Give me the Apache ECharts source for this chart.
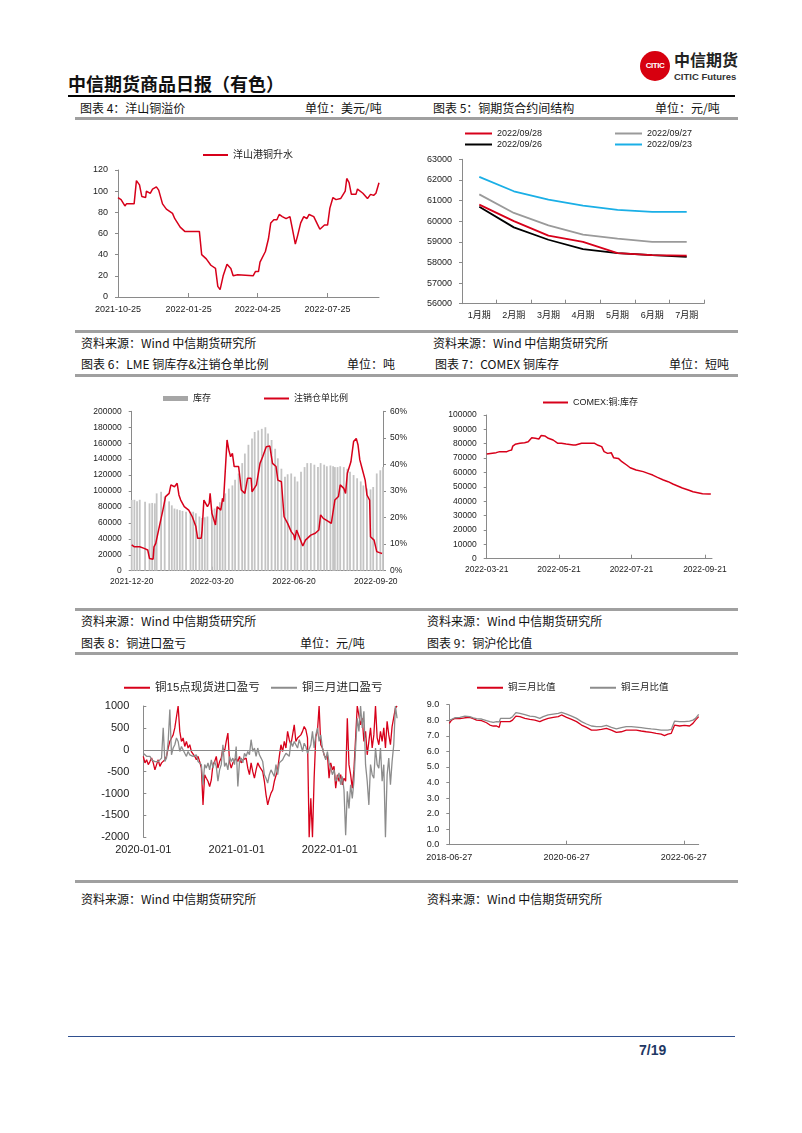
<!DOCTYPE html>
<html><head><meta charset="utf-8">
<script src="https://cdn.jsdelivr.net/npm/echarts@6/dist/echarts.min.js"></script>
<style>
body{margin:0;background:#fff;width:802px;height:1133px;position:relative;overflow:hidden;font-family:"Noto Sans CJK SC","Liberation Sans",sans-serif;}
.t{position:absolute;font-size:12px;color:#111;white-space:nowrap;line-height:14px;height:14px;}
.hl{position:absolute;height:3px;background:#a0a0a0;left:75px;width:663px;}
.c{position:absolute;}
</style></head><body>
<div class="t" style="left:68px;top:72px;font-size:18px;line-height:22px;height:22px;font-weight:bold;">中信期货商品日报（有色）</div>
<div style="position:absolute;left:640px;top:51px;width:30px;height:30px;border-radius:50%;background:#d7000f;color:#fff;font:bold 8px 'Liberation Sans';line-height:30px;text-align:center;letter-spacing:-0.5px;">CITIC</div>
<div class="t" style="left:674px;top:50px;font-size:16px;line-height:18px;height:18px;font-weight:bold;color:#222;">中信期货</div>
<div class="t" style="left:674px;top:71px;font:bold 9.5px 'Liberation Sans';line-height:11px;height:11px;color:#333;">CITIC Futures</div>
<div style="position:absolute;left:68px;top:95px;width:667px;height:2px;background:#000;"></div>

<div class="t" style="left:80px;top:101px;">图表 4：洋山铜溢价</div>
<div class="t" style="left:305px;top:101px;">单位：美元/吨</div>
<div class="t" style="left:433px;top:101px;">图表 5：铜期货合约间结构</div>
<div class="t" style="left:655px;top:101px;">单位：元/吨</div>
<div class="hl" style="top:117px;"></div>

<div class="hl" style="top:330px;"></div>
<div class="t" style="left:81px;top:336px;">资料来源：Wind 中信期货研究所</div>
<div class="t" style="left:433px;top:336px;">资料来源：Wind 中信期货研究所</div>
<div class="t" style="left:81px;top:357px;">图表 6：LME 铜库存&amp;注销仓单比例</div>
<div class="t" style="left:347px;top:357px;">单位：吨</div>
<div class="t" style="left:435px;top:357px;">图表 7：COMEX 铜库存</div>
<div class="t" style="left:669px;top:357px;">单位：短吨</div>
<div class="hl" style="top:374px;"></div>

<div class="hl" style="top:608px;"></div>
<div class="t" style="left:81px;top:614px;">资料来源：Wind 中信期货研究所</div>
<div class="t" style="left:427px;top:614px;">资料来源：Wind 中信期货研究所</div>
<div class="t" style="left:81px;top:636px;">图表 8：铜进口盈亏</div>
<div class="t" style="left:300px;top:636px;">单位：元/吨</div>
<div class="t" style="left:427px;top:636px;">图表 9：铜沪伦比值</div>
<div class="hl" style="top:652px;"></div>

<div class="hl" style="top:880px;"></div>
<div class="t" style="left:81px;top:892px;">资料来源：Wind 中信期货研究所</div>
<div class="t" style="left:427px;top:892px;">资料来源：Wind 中信期货研究所</div>

<div style="position:absolute;left:68px;top:1036px;width:667px;height:1px;background:#2f4f8f;"></div>
<div class="t" style="left:639px;top:1042px;font:bold 14px 'Liberation Sans';line-height:16px;color:#1f3864;">7/19</div>

<div id="c4" class="c" style="left:60px;top:120px;width:340px;height:210px;"></div>
<div id="c5" class="c" style="left:410px;top:120px;width:340px;height:210px;"></div>
<div id="c6" class="c" style="left:60px;top:380px;width:350px;height:215px;"></div>
<div id="c7" class="c" style="left:410px;top:380px;width:340px;height:215px;"></div>
<div id="c8" class="c" style="left:60px;top:660px;width:350px;height:210px;"></div>
<div id="c9" class="c" style="left:410px;top:660px;width:340px;height:210px;"></div>

<script>
// ---------- DATA ----------
// 图表4 洋山港铜升水 (美元/吨)
const yangshanDates = ['2021-10-25','2021-10-29','2021-11-03','2021-11-05','2021-11-15','2021-11-18','2021-11-22','2021-11-25','2021-11-30','2021-12-01','2021-12-06','2021-12-09','2021-12-14','2021-12-17','2021-12-22','2021-12-27','2022-01-04','2022-01-07','2022-01-14','2022-01-20','2022-02-08','2022-02-11','2022-02-17','2022-02-23','2022-03-01','2022-03-04','2022-03-07','2022-03-11','2022-03-16','2022-03-21','2022-03-24','2022-03-30','2022-04-19','2022-04-22','2022-04-26','2022-04-28','2022-05-05','2022-05-09','2022-05-12','2022-05-16','2022-05-20','2022-05-23','2022-05-27','2022-06-01','2022-06-06','2022-06-09','2022-06-13','2022-06-16','2022-06-20','2022-06-24','2022-06-28','2022-07-01','2022-07-07','2022-07-13','2022-07-15','2022-07-21','2022-07-25','2022-07-28','2022-08-01','2022-08-05','2022-08-11','2022-08-17','2022-08-19','2022-08-22','2022-08-25','2022-08-31','2022-09-02','2022-09-09','2022-09-15','2022-09-19','2022-09-23','2022-09-26','2022-09-30'];
const yangshanValues = [94,92,86,88,88,110,106,95,94,100,98,102,104,101,88,83,79,74,66,62,62,40,36,30,27,10,7,20,31,27,20,21,20,24,24,33,43,55,70,73,73,78,76,74,76,65,50,58,70,76,74,78,76,67,64,68,68,84,94,92,93,100,112,108,97,97,102,98,93,97,96,98,108];
const yangshanTicks = ['2021-10-25','2022-01-25','2022-04-25','2022-07-25'];

// 图表5 铜期货合约间结构 (元/吨)
const contractCats = ['1月期','2月期','3月期','4月期','5月期','6月期','7月期'];
const curve0928 = [60800,60000,59300,59000,58450,58350,58330];
const curve0927 = [61300,60400,59800,59350,59150,59000,59000];
const curve0926 = [60700,59700,59100,58650,58450,58350,58270];
const curve0923 = [62150,61450,61050,60750,60550,60450,60450];

// 图表6 LME 铜库存 (吨) & 注销仓单比例 (%)
const lmeStockDates = ['2021-12-20','2021-12-23','2021-12-26','2021-12-29','2022-01-04','2022-01-09','2022-01-12','2022-01-15','2022-01-17','2022-01-22','2022-01-26','2022-01-31','2022-02-03','2022-02-06','2022-02-09','2022-02-12','2022-02-15','2022-02-19','2022-02-24','2022-02-27','2022-03-02','2022-03-06','2022-03-09','2022-03-12','2022-03-15','2022-03-20','2022-03-23','2022-03-26','2022-03-29','2022-04-01','2022-04-04','2022-04-08','2022-04-12','2022-04-15','2022-04-19','2022-04-23','2022-04-26','2022-04-30','2022-05-04','2022-05-07','2022-05-11','2022-05-15','2022-05-19','2022-05-22','2022-05-26','2022-05-30','2022-06-02','2022-06-06','2022-06-10','2022-06-13','2022-06-17','2022-06-21','2022-06-24','2022-06-28','2022-07-02','2022-07-05','2022-07-09','2022-07-13','2022-07-17','2022-07-20','2022-07-24','2022-07-27','2022-07-31','2022-08-03','2022-08-05','2022-08-08','2022-08-11','2022-08-15','2022-08-19','2022-08-22','2022-08-26','2022-08-30','2022-09-03','2022-09-06','2022-09-10','2022-09-14','2022-09-17','2022-09-21','2022-09-25','2022-09-28'];
const lmeStock = [88700,89000,87000,89000,86600,84500,85000,84500,97000,99000,93000,87000,82000,78000,77000,76000,75000,74000,74000,74000,72000,68000,66000,67000,68000,76000,78000,80000,86000,91000,97000,103000,107000,114000,122000,135000,147000,158000,166000,174000,176000,178000,180000,172000,164000,153000,141000,128000,118000,121000,122000,118000,112000,124000,130000,135000,135000,133000,130000,135000,133000,131000,132000,131000,130000,130000,131000,130000,128000,124000,120000,116000,112000,107000,103000,102000,105000,122000,126000,130000];
const cancelDates = ['2021-12-20','2021-12-23','2021-12-29','2022-01-03','2022-01-07','2022-01-09','2022-01-13','2022-01-14','2022-01-16','2022-01-20','2022-01-24','2022-01-27','2022-01-31','2022-02-02','2022-02-06','2022-02-09','2022-02-11','2022-02-13','2022-02-17','2022-02-22','2022-02-26','2022-03-02','2022-03-04','2022-03-08','2022-03-09','2022-03-11','2022-03-15','2022-03-17','2022-03-18','2022-03-20','2022-03-24','2022-03-26','2022-03-30','2022-04-01','2022-04-02','2022-04-04','2022-04-06','2022-04-08','2022-04-10','2022-04-12','2022-04-14','2022-04-19','2022-04-22','2022-04-26','2022-04-29','2022-05-03','2022-05-04','2022-05-09','2022-05-13','2022-05-16','2022-05-20','2022-05-24','2022-05-27','2022-05-31','2022-06-02','2022-06-06','2022-06-09','2022-06-13','2022-06-17','2022-06-20','2022-06-21','2022-06-23','2022-06-26','2022-06-30','2022-07-03','2022-07-09','2022-07-14','2022-07-18','2022-07-20','2022-07-23','2022-07-29','2022-08-01','2022-08-05','2022-08-09','2022-08-11','2022-08-15','2022-08-17','2022-08-19','2022-08-23','2022-08-26','2022-08-29','2022-08-31','2022-09-02','2022-09-05','2022-09-08','2022-09-10','2022-09-13','2022-09-14','2022-09-18','2022-09-21','2022-09-24','2022-09-27'];
const cancelRatio = [9.7,9.0,9.0,8.4,7.8,4.6,4.3,9.0,10.3,16.6,22.8,27.9,29.1,32.3,31.6,32.9,28.5,26.6,24.1,22.8,20.3,16.6,12.2,12.2,15.3,26.6,24.1,25.4,29.1,21.6,17.2,24.1,22.8,27.2,26.0,26.6,49.2,45.4,42.9,44.2,39.2,39.2,30.4,29.1,34.8,34.8,29.7,32.3,40.4,42.9,46.7,46.9,40.4,39.2,34.1,33.5,20.3,17.8,14.7,13.4,11.5,15.3,12.8,9.3,11.5,13.4,14.1,15.3,21.0,19.7,18.5,17.8,26.6,27.9,32.3,31.0,29.1,36.7,41.0,48.6,49.8,47.3,41.7,37.9,34.1,28.5,26.6,12.8,11.5,7.2,6.8,6.5];
const lmeTicks = ['2021-12-20','2022-03-20','2022-06-20','2022-09-20'];

// 图表7 COMEX 铜库存 (短吨)
const comexDates = ['2022-03-21','2022-03-29','2022-04-01','2022-04-07','2022-04-09','2022-04-11','2022-04-12','2022-04-14','2022-04-18','2022-04-22','2022-04-25','2022-04-28','2022-05-01','2022-05-04','2022-05-06','2022-05-09','2022-05-12','2022-05-16','2022-05-20','2022-05-23','2022-05-27','2022-06-02','2022-06-04','2022-06-09','2022-06-14','2022-06-20','2022-06-23','2022-06-26','2022-06-28','2022-07-01','2022-07-04','2022-07-06','2022-07-10','2022-07-13','2022-07-17','2022-07-20','2022-07-25','2022-07-31','2022-08-04','2022-08-08','2022-08-12','2022-08-17','2022-08-21','2022-08-25','2022-08-29','2022-09-02','2022-09-07','2022-09-11','2022-09-15','2022-09-19','2022-09-24','2022-09-26'];
const comexStock = [72900,73800,74500,74500,75200,75600,78400,79600,80300,80700,81400,84200,83800,83300,85800,85400,83800,82600,80300,80300,79800,79100,79100,80300,80300,80300,78900,78000,74500,73300,73800,70300,69800,67500,65200,63300,61700,60600,59400,58200,56600,54800,53600,52000,50600,49200,47800,46600,45900,45200,45000,45000];
const comexTicks = ['2022-03-21','2022-05-21','2022-07-21','2022-09-21'];

// 图表8 铜进口盈亏 (元/吨), sampled every 6.5 days from 2020-01-01
const importStart = '2020-01-01';
const importStepDays = 6.5;
const spotImportPL = [-150,-300,-230,-340,-270,-190,-300,-460,-340,-230,-380,-300,-340,-230,-150,40,190,270,340,500,530,1000,420,190,270,75,190,40,115,-40,-80,-150,-230,-150,-270,-420,-1260,-570,-650,-720,-840,-690,-340,-270,-150,-420,-270,-190,40,-40,190,380,-270,-420,-300,-340,-190,-270,-150,-300,-230,-270,-190,-420,-570,-300,-500,-650,-460,-300,-380,-340,-500,-720,-1030,-1260,-1110,-990,-920,-720,
-690,-460,-150,115,-40,190,40,420,230,115,340,570,190,270,300,340,420,530,460,270,-2000,-1110,-2000,-650,300,420,1000,115,40,-115,-190,-115,-650,-300,-460,-380,-880,-570,-720,-570,-800,-650,-720,720,-340,-570,-880,-460,270,1000,1000,570,720,190,420,-115,190,500,40,340,1000,270,115,420,190,500,40,650,340,115,530,500,950,1000];
const threeMonthImportPL = [-80,-115,-150,-190,-150,-230,-230,-270,-230,-270,-300,-190,500,-270,-190,190,920,-115,40,115,270,190,-40,75,40,-80,-150,-40,-115,-80,-150,-190,-115,-270,-230,-340,-800,-340,-420,-300,-460,-230,-420,-270,-380,-720,-460,-340,115,-380,-300,-460,-150,-270,-190,-340,75,-840,-270,-190,-300,-80,-150,-40,-115,230,-40,40,-150,40,-115,-190,-270,-570,-650,-760,-570,-460,-500,-610,
-340,-570,-300,-340,-230,-150,-80,-40,-150,190,75,190,115,40,230,115,-40,150,75,-80,-40,115,420,40,340,500,190,340,40,-115,-230,-40,-300,-420,-570,-460,-720,-650,-530,-800,-610,-920,-1950,-950,-1340,-800,-1110,-720,40,720,420,1000,500,880,-340,-720,-1260,-340,-570,-650,40,-340,-420,40,-720,-340,-2000,-570,-190,-800,-270,115,1000,720];
const importTicks = ['2020-01-01','2021-01-01','2022-01-01'];

// 图表9 铜沪伦比值
const ratioDates = ['2018-06-27','2018-07-11','2018-08-01','2018-09-01','2018-10-02','2018-11-02','2018-11-23','2018-12-14','2019-01-14','2019-02-14','2019-03-07','2019-03-28','2019-04-18','2019-05-04','2019-05-12','2019-06-08','2019-07-10','2019-07-26','2019-08-16','2019-09-10','2019-10-11','2019-11-11','2019-12-12','2020-01-12','2020-02-02','2020-03-04','2020-04-05','2020-05-06','2020-05-26','2020-06-27','2020-07-28','2020-08-28','2020-09-28','2020-10-29','2020-11-29','2020-12-30','2021-01-30','2021-03-02','2021-04-02','2021-05-03','2021-06-03','2021-07-04','2021-08-04','2021-09-04','2021-10-05','2021-11-05','2021-12-06','2022-01-06','2022-02-06','2022-02-27','2022-03-20','2022-04-10','2022-05-01','2022-05-11','2022-06-01','2022-07-02','2022-08-02','2022-08-23','2022-09-08','2022-09-28'];
const ratioRed = [7.80,8.01,8.12,8.10,8.16,8.19,8.10,8.01,7.97,7.84,7.69,7.63,7.63,7.54,7.91,7.91,7.91,8.01,8.27,8.23,8.12,8.06,8.01,7.91,8.01,8.12,8.19,8.23,8.34,8.19,8.06,7.91,7.69,7.54,7.37,7.37,7.41,7.48,7.37,7.22,7.26,7.37,7.37,7.37,7.31,7.26,7.22,7.16,7.11,7.01,7.11,7.16,7.69,7.80,7.63,7.67,7.63,7.80,8.01,8.23];
const ratioGray = [8.01,8.06,8.16,8.19,8.27,8.23,8.16,8.10,8.08,7.97,7.91,7.86,7.91,7.89,8.12,8.12,8.12,8.23,8.49,8.44,8.36,8.27,8.23,8.12,8.23,8.34,8.40,8.44,8.51,8.40,8.27,8.12,7.91,7.76,7.63,7.59,7.59,7.67,7.54,7.44,7.52,7.59,7.59,7.56,7.52,7.48,7.44,7.41,7.37,7.37,7.37,7.41,7.95,8.01,7.91,7.91,7.95,8.01,8.12,8.38];
const ratioTicks = ['2018-06-27','2020-06-27','2022-06-27'];

// ---------- HELPERS ----------
const FF = '"Liberation Sans","Noto Sans CJK SC",sans-serif';
const AX = '#8a8a8a';
const RED = '#d7001a';
const T = s => new Date(s + 'T00:00:00').getTime();
const pad = n => (n < 10 ? '0' : '') + n;
const fmtDate = v => { const d = new Date(v); return d.getFullYear() + '-' + pad(d.getMonth() + 1) + '-' + pad(d.getDate()); };
const plain = v => String(v);
const zipT = (a, b) => a.map((x, i) => [typeof x === 'string' ? T(x) : x, b[i]]);

// date axis drawn as a numeric (timestamp) axis with custom tick/label positions
function dateAxis(min, max, ticks, fs, margin, extra) {
  const cv = ticks.map(T);
  return Object.assign({
    type: 'value', min: T(min), max: T(max), scale: true,
    axisLine: { show: true, onZero: false, lineStyle: { color: AX, width: 1 } },
    axisTick: { show: true, inside: true, length: 4, customValues: cv, lineStyle: { color: AX } },
    axisLabel: { customValues: cv, formatter: fmtDate, fontSize: fs, color: '#222', fontFamily: FF, margin: margin, hideOverlap: false, showMinLabel: true, showMaxLabel: true },
    splitLine: { show: false }
  }, extra || {});
}
function valAxis(min, max, interval, fs, margin, fmt, extra) {
  return Object.assign({
    type: 'value', min: min, max: max, interval: interval,
    axisLine: { show: true, lineStyle: { color: AX, width: 1 } },
    axisTick: { show: true, length: 3, lineStyle: { color: AX } },
    axisLabel: { fontSize: fs, color: '#222', fontFamily: FF, margin: margin, formatter: fmt || plain },
    splitLine: { show: false }
  }, extra || {});
}
function lg(name, left, cy, fs, color, w, h) {
  return {
    data: [{ name: name, itemStyle: { color: color } }],
    left: left, top: cy - Math.round(fs * 0.6), padding: 0, icon: 'rect',
    itemWidth: w, itemHeight: h, selectedMode: false,
    textStyle: { fontSize: fs, color: '#222', fontFamily: FF }
  };
}
function line(name, data, color, width, extra) {
  return Object.assign({ name: name, type: 'line', data: data, showSymbol: false, symbol: 'none',
    lineStyle: { color: color, width: width }, itemStyle: { color: color } }, extra || {});
}
function mk(id, opt) {
  const c = echarts.init(document.getElementById(id), null, { renderer: 'canvas' });
  opt.animation = false;
  c.setOption(opt);
}

// ---------- 图表4 ----------
mk('c4', {
  grid: { left: 58, top: 50, width: 261, height: 127 },
  legend: [lg('洋山港铜升水', 143, 36, 10, RED, 25, 2)],
  xAxis: dateAxis('2021-10-25', '2022-09-30', yangshanTicks, 9, 8),
  yAxis: valAxis(0, 120, 20, 9, 10),
  series: [line('洋山港铜升水', zipT(yangshanDates, yangshanValues), RED, 1.5)]
});

// ---------- 图表5 ----------
mk('c5', {
  grid: { left: 52, top: 39.3, width: 242, height: 144.4 },
  legend: [
    lg('2022/09/28', 55, 14, 9, RED, 27, 2),
    lg('2022/09/27', 205, 14, 9, '#9a9a9a', 27, 2),
    lg('2022/09/26', 55, 25, 9, '#000', 27, 2),
    lg('2022/09/23', 205, 25, 9, '#1aafe6', 27, 2)
  ],
  xAxis: {
    type: 'category', data: contractCats, boundaryGap: true,
    axisLine: { lineStyle: { color: AX } },
    axisTick: { show: true, inside: true, length: 4, alignWithLabel: false, lineStyle: { color: AX } },
    axisLabel: { fontSize: 9, color: '#222', fontFamily: FF, margin: 7, interval: 0 }
  },
  yAxis: valAxis(56000, 63000, 1000, 9, 10),
  series: [
    line('2022/09/23', curve0923, '#1aafe6', 1.8),
    line('2022/09/27', curve0927, '#9a9a9a', 1.8),
    line('2022/09/26', curve0926, '#000', 1.8),
    line('2022/09/28', curve0928, RED, 1.8)
  ]
});

// ---------- 图表6 ----------
mk('c6', {
  grid: { left: 71.7, top: 31.3, width: 254.3, height: 159.4 },
  legend: [lg('库存', 103, 19, 9, '#a6a6a6', 25, 5), lg('注销仓单比例', 204, 19, 9, RED, 25, 2)],
  xAxis: dateAxis('2021-12-20', '2022-09-28', lmeTicks, 8.5, 7),
  yAxis: [
    valAxis(0, 200000, 20000, 8.5, 10),
    valAxis(0, 60, 10, 8.5, 7, '{value}%', { position: 'right' })
  ],
  series: [
    { name: '库存', type: 'bar', data: zipT(lmeStockDates, lmeStock), barWidth: 1.8, itemStyle: { color: '#c4c4c4' }, yAxisIndex: 0 },
    line('注销仓单比例', zipT(cancelDates, cancelRatio), RED, 1.5, { yAxisIndex: 1 })
  ]
});

// ---------- 图表7 ----------
mk('c7', {
  grid: { left: 76.7, top: 35, width: 225.3, height: 143.7 },
  legend: [lg('COMEX:铜:库存', 133, 23, 9, RED, 25, 2)],
  xAxis: dateAxis('2022-03-21', '2022-09-27', comexTicks, 8.5, 7),
  yAxis: valAxis(0, 100000, 10000, 8.5, 10),
  series: [line('COMEX:铜:库存', zipT(comexDates, comexStock), RED, 1.5)]
});

// ---------- 图表8 ----------
const importDates = spotImportPL.map((_, i) => T(importStart) + i * importStepDays * 86400000);
mk('c8', {
  grid: { left: 83.3, top: 46, width: 256.7, height: 131.3 },
  legend: [lg('铜15点现货进口盈亏', 64, 29, 11.5, RED, 26, 2), lg('铜三月进口盈亏', 211, 29, 11.5, '#8c8c8c', 26, 2)],
  xAxis: dateAxis('2020-01-01', '2022-10-03', importTicks, 11, 7, {
    axisLine: { show: false }, axisTick: { show: false }
  }),
  yAxis: valAxis(-2000, 1000, 500, 11, 14, null, { axisTick: { show: true, inside: true, length: 3, lineStyle: { color: AX } } }),
  series: [
    line('铜15点现货进口盈亏', zipT(importDates, spotImportPL), RED, 1.3, {
      markLine: { silent: true, symbol: 'none', label: { show: false }, lineStyle: { color: '#8a8a8a', width: 1, type: 'solid' }, data: [{ yAxis: 0 }] }
    }),
    line('铜三月进口盈亏', zipT(importDates, threeMonthImportPL), '#8c8c8c', 1.3)
  ]
});

// ---------- 图表9 ----------
mk('c9', {
  grid: { left: 39.3, top: 44.7, width: 249.4, height: 140 },
  legend: [lg('铜三月比值', 67, 29, 9.5, RED, 26, 2), lg('铜三月比值 ', 180, 29, 9.5, '#8c8c8c', 26, 2)],
  xAxis: dateAxis('2018-06-27', '2022-09-28', ratioTicks, 9, 8),
  yAxis: valAxis(0, 9, 1, 9, 10, v => v.toFixed(1)),
  series: [
    line('铜三月比值', zipT(ratioDates, ratioRed), RED, 1.3),
    line('铜三月比值 ', zipT(ratioDates, ratioGray), '#8c8c8c', 1.3)
  ]
});
</script>
</body></html>
